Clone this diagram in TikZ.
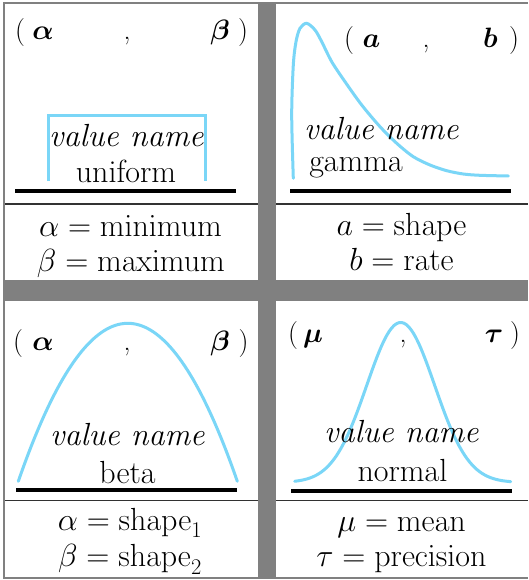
\RequirePackage{fix-cm}
\documentclass[tikz,border=0pt]{standalone}
\usepackage{amsmath,bm}
\definecolor{bargray}{RGB}{128,128,128}
\definecolor{curveblue}{RGB}{122,214,247}
\definecolor{divgray}{RGB}{50,50,50}
\begin{document}
\begin{tikzpicture}[x=1pt,y=-1pt,
  txt/.style={inner sep=0pt, anchor=base, font=\fontsize{32}{38}\selectfont},
  hdr/.style={inner sep=0pt, anchor=base, font=\fontsize{28}{34}\selectfont},
  groundline/.style={line width=3.5pt, draw=black},
  divider/.style={line width=1.3pt, draw=divgray},
  curve/.style={line width=3pt, draw=curveblue}]
\path[use as bounding box] (0,0) rectangle (528,580);
\fill[white] (0,0) rectangle (528,580);
\fill[bargray] (3,2) rectangle (528,579);
% panels
\fill[white] (5,4) rectangle (257.5,280);
\fill[white] (276,4) rectangle (528,280);
\fill[white] (5,301) rectangle (257.5,577);
\fill[white] (276,301) rectangle (528,577);
% dividers
\draw[divider] (5,204) -- (257.5,204);
\draw[divider] (276,204) -- (528,204);
\draw[divider] (5,500.7) -- (257.5,500.7);
\draw[divider] (276,500.7) -- (528,500.7);
% ground lines
\draw[groundline] (15,191) -- (236,191);
\draw[groundline] (290,191) -- (511,191);
\draw[groundline] (16,490) -- (237,490);
\draw[groundline] (291,491) -- (512,491);
% curves
\draw[curve] (48,181) -- (48,116) -- (205,116) -- (205,181);
\draw[curve, line cap=round] plot[smooth, tension=0.5] coordinates {
 (293.3,178.3) (291.7,115) (293.3,65) (296,41.7) (300,28.3) (306.7,23.3)
 (315,30) (321.7,41.7) (331.7,61.7) (345,81.7) (361.7,105) (380,126.7)
 (396.7,143.3) (413.3,156.7) (430,165) (446.7,170.7) (463.3,174)
 (480,175.3) (508.3,176)};
\draw[curve, line cap=round] plot[domain=18.3:237.3, samples=80]
  (\x, {323.3 + 158*((\x-127.8)/109.5)*((\x-127.8)/109.5)});
\draw[curve, line cap=round] plot[domain=294.7:510.7, samples=90]
  (\x, {482.5 - 160*exp(-0.5*((\x-400.7)/34)*((\x-400.7)/34))});
% headers TL
\node[hdr] (tlo) at (20,40) {(};
\node[hdr] (tla) at (43,40) {$\boldsymbol{\alpha}$};
\node[hdr] (tlc) at (127,40) {,};
\node[hdr] (tlb) at (220,40) {$\boldsymbol{\beta}$};
\node[hdr] (tlx) at (243,40) {)};
% headers TR
\node[hdr] (tro) at (349,48) {(};
\node[hdr] (tra) at (371.5,48) {$\boldsymbol{a}$};
\node[hdr] (trc) at (426,48) {,};
\node[hdr] (trb) at (490.5,48) {$\boldsymbol{b}$};
\node[hdr] (trx) at (514,48) {)};
% headers BL
\node[hdr] (blo) at (18,350) {(};
\node[hdr] (bla) at (43,350) {$\boldsymbol{\alpha}$};
\node[hdr] (blc) at (127,350) {,};
\node[hdr] (blb) at (220,350) {$\boldsymbol{\beta}$};
\node[hdr] (blx) at (243.5,350) {)};
% headers BR
\node[hdr] (bro) at (293,342) {(};
\node[hdr] (bra) at (313,342) {$\boldsymbol{\mu}$};
\node[hdr] (brc) at (403,342) {,};
\node[hdr] (brb) at (494,342) {$\boldsymbol{\tau}$};
\node[hdr] (brx) at (515,342) {)};
% value name labels
\node[txt] (tlv) at (126.5,147) {\textit{value name}};
\node[txt] (trv) at (381.5,140) {\textit{value name}};
\node[txt] (blv) at (127.5,445) {\textit{value name}};
\node[txt] (brv) at (401.5,442) {\textit{value name}};
% distribution names
\node[txt] (tln) at (126,182.7) {uniform};
\node[txt] (trn) at (356,171.7) {gamma};
\node[txt] (bln) at (127.5,483) {beta};
\node[txt] (brn) at (402.5,481.7) {normal};
% parameter definitions
\node[txt] (tlp1) at (130.5,236) {$\alpha=\mathrm{minimum}$};
\node[txt] (tlp2) at (131,271.7) {$\beta=\mathrm{maximum}$};
\node[txt] (trp1) at (401.5,235) {$a=\mathrm{shape}$};
\node[txt] (trp2) at (401.5,270) {$b=\mathrm{rate}$};
\node[txt] (blp1) at (130,530) {$\alpha=\mathrm{shape}_1$};
\node[txt] (blp2) at (130,566.7) {$\beta=\mathrm{shape}_2$};
\node[txt] (brp1) at (401.5,531.7) {$\mu=\mathrm{mean}$};
\node[txt] (brp2) at (401.5,566.7) {$\tau=\mathrm{precision}$};
\end{tikzpicture}
\end{document}
